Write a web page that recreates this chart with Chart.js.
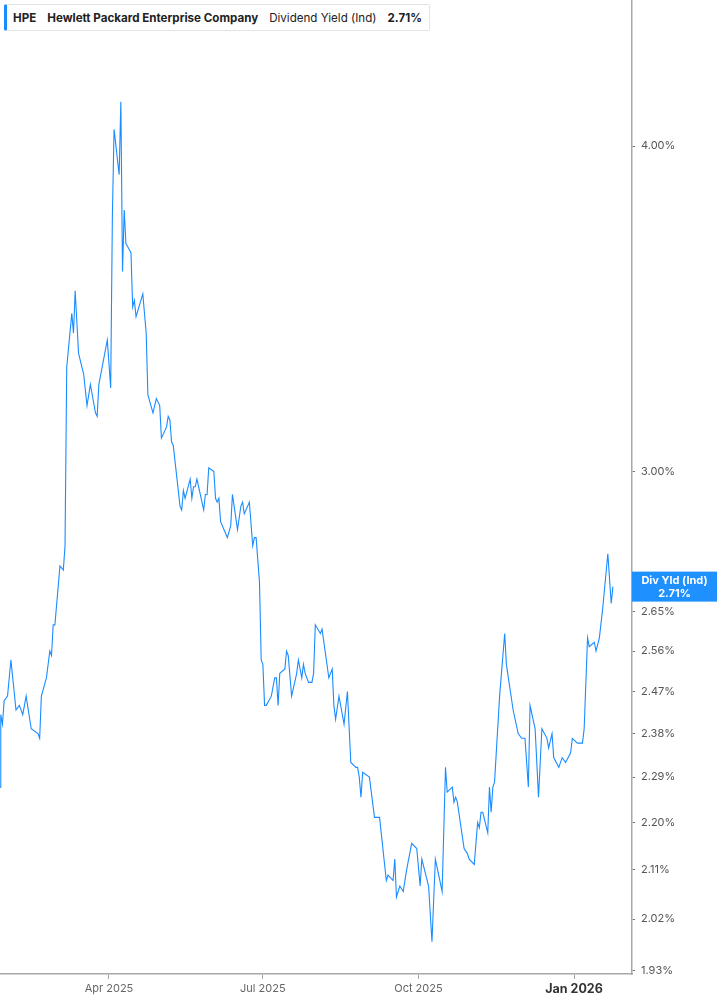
<!DOCTYPE html>
<html>
<head>
<meta charset="utf-8">
<script src="https://cdn.jsdelivr.net/npm/chart.js@4.4.1/dist/chart.umd.min.js"></script>
<style>
  html, body { margin: 0; padding: 0; background: #fff; }
  #wrap { position: relative; width: 717px; height: 1005px; }
  #legend {
    position: absolute; left: 4px; top: 4px; height: 25px;
    display: flex; align-items: center;
    background: #fff; border: 1px solid #e3e3e3; border-left: 3px solid #1a8cff;
    border-radius: 2px; padding: 0 7px 0 6px;
    font-family: Inter, 'Noto Sans', sans-serif; font-size: 11.6px; color: #222;
  }
  #legend b { font-weight: 700; }
  #legend span { margin-right: 11px; }
  #legend span:last-child { margin-right: 0; }
</style>
</head>
<body>
<div id="wrap">
  <canvas id="yield-chart" width="717" height="1005"></canvas>
  <div id="legend"></div>
</div>
<script>
const ticker = 'HPE';
const company = 'Hewlett Packard Enterprise Company';
const metric = 'Dividend Yield (Ind)';
const tagLabel = 'Div Yld (Ind)';

const dates = [
  '2025-01-26','2025-01-27','2025-01-28','2025-01-29','2025-01-31','2025-02-02','2025-02-05','2025-02-07',
  '2025-02-09','2025-02-11','2025-02-14','2025-02-18','2025-02-19','2025-02-20','2025-02-23','2025-02-25',
  '2025-02-26','2025-02-27','2025-02-28','2025-03-03','2025-03-05','2025-03-06','2025-03-07','2025-03-10',
  '2025-03-11','2025-03-12','2025-03-14','2025-03-17','2025-03-19','2025-03-21','2025-03-24','2025-03-25',
  '2025-03-26','2025-03-31','2025-04-02','2025-04-03','2025-04-04','2025-04-07','2025-04-08','2025-04-09',
  '2025-04-10','2025-04-11','2025-04-14','2025-04-15','2025-04-16','2025-04-17','2025-04-21','2025-04-23',
  '2025-04-24','2025-04-27','2025-04-29','2025-05-01','2025-05-02','2025-05-05','2025-05-06','2025-05-07',
  '2025-05-08','2025-05-09','2025-05-13','2025-05-14','2025-05-15','2025-05-16','2025-05-19','2025-05-20',
  '2025-05-21','2025-05-22','2025-05-23','2025-05-27','2025-05-28','2025-05-29','2025-05-30','2025-06-02',
  '2025-06-03','2025-06-04','2025-06-05','2025-06-06','2025-06-10','2025-06-12','2025-06-13','2025-06-16',
  '2025-06-18','2025-06-19','2025-06-20','2025-06-23','2025-06-25','2025-06-26','2025-06-27','2025-06-29',
  '2025-06-30','2025-07-01','2025-07-02','2025-07-03','2025-07-06','2025-07-08','2025-07-09','2025-07-10',
  '2025-07-11','2025-07-14','2025-07-15','2025-07-16','2025-07-18','2025-07-21','2025-07-22','2025-07-24',
  '2025-07-25','2025-07-26','2025-07-28','2025-07-30','2025-07-31','2025-08-01','2025-08-04','2025-08-05',
  '2025-08-09','2025-08-11','2025-08-12','2025-08-13','2025-08-15','2025-08-18','2025-08-20','2025-08-22',
  '2025-08-25','2025-08-26','2025-08-27','2025-08-28','2025-08-29','2025-09-02','2025-09-05','2025-09-08',
  '2025-09-12','2025-09-13','2025-09-16','2025-09-17','2025-09-18','2025-09-20','2025-09-22','2025-09-24',
  '2025-09-27','2025-09-30','2025-10-02','2025-10-03','2025-10-07','2025-10-09','2025-10-11','2025-10-15',
  '2025-10-17','2025-10-18','2025-10-21','2025-10-22','2025-10-23','2025-10-24','2025-10-28','2025-10-30',
  '2025-10-31','2025-11-03','2025-11-05','2025-11-06','2025-11-07','2025-11-08','2025-11-11','2025-11-12',
  '2025-11-13','2025-11-14','2025-11-15','2025-11-18','2025-11-21','2025-11-22','2025-11-26','2025-11-29',
  '2025-12-01','2025-12-03','2025-12-05','2025-12-06','2025-12-09','2025-12-11','2025-12-13','2025-12-16',
  '2025-12-17','2025-12-19','2025-12-20','2025-12-23','2025-12-25','2025-12-27','2025-12-30','2025-12-31',
  '2026-01-03','2026-01-06','2026-01-07','2026-01-09','2026-01-10','2026-01-13','2026-01-14','2026-01-16',
  '2026-01-18','2026-01-21','2026-01-23','2026-01-24'
];

const yields = [
  2.27, 2.42, 2.40, 2.45, 2.46, 2.54, 2.43, 2.44,
  2.42, 2.46, 2.39, 2.38, 2.37, 2.46, 2.50, 2.56,
  2.55, 2.62, 2.62, 2.76, 2.75, 2.81, 3.29, 3.45,
  3.39, 3.52, 3.33, 3.27, 3.18, 3.24, 3.16, 3.15,
  3.24, 3.37, 3.23, 3.76, 4.06, 3.90, 4.16, 3.58,
  3.78, 3.67, 3.64, 3.47, 3.49, 3.44, 3.51, 3.39,
  3.21, 3.16, 3.20, 3.18, 3.09, 3.12, 3.15, 3.14,
  3.08, 3.07, 2.91, 2.90, 2.95, 2.93, 2.98, 2.93,
  2.96, 2.96, 2.98, 2.90, 2.94, 2.94, 3.01, 3.00,
  2.93, 2.92, 2.93, 2.87, 2.83, 2.86, 2.94, 2.85,
  2.91, 2.92, 2.89, 2.92, 2.81, 2.83, 2.83, 2.72,
  2.54, 2.53, 2.44, 2.44, 2.46, 2.50, 2.50, 2.44,
  2.51, 2.52, 2.56, 2.55, 2.46, 2.51, 2.54, 2.50,
  2.53, 2.51, 2.49, 2.49, 2.51, 2.62, 2.60, 2.61,
  2.50, 2.52, 2.44, 2.41, 2.46, 2.40, 2.47, 2.32,
  2.31, 2.31, 2.29, 2.25, 2.30, 2.29, 2.21, 2.21,
  2.09, 2.10, 2.09, 2.13, 2.06, 2.08, 2.07, 2.11,
  2.16, 2.15, 2.08, 2.13, 2.08, 1.98, 2.13, 2.07,
  2.31, 2.26, 2.27, 2.24, 2.25, 2.24, 2.15, 2.14,
  2.13, 2.12, 2.20, 2.19, 2.22, 2.22, 2.18, 2.27,
  2.22, 2.27, 2.28, 2.46, 2.60, 2.53, 2.43, 2.38,
  2.37, 2.37, 2.27, 2.44, 2.39, 2.25, 2.39, 2.37,
  2.35, 2.38, 2.33, 2.31, 2.33, 2.32, 2.34, 2.37,
  2.36, 2.36, 2.39, 2.59, 2.57, 2.58, 2.56, 2.59,
  2.66, 2.79, 2.67, 2.71
];

const yTicks = [1.93, 2.02, 2.11, 2.20, 2.29, 2.38, 2.47, 2.56, 2.65, 3.00, 4.00];
const xTickDates = ['2025-04-01', '2025-07-01', '2025-10-01', '2026-01-01'];
const xTickLabels = ['Apr 2025', 'Jul 2025', 'Oct 2025', 'Jan 2026'];
const xRange = ['2025-01-26T13:00', '2026-02-04T07:00'];
const yRange = [1.9244, 4.551];

const BLUE = '#1a8cff';
const FONT = 'Inter, "Noto Sans", sans-serif';
const DAY0 = Date.UTC(2025, 0, 1);
const toDay = s => (Date.parse(s.length > 10 ? s + 'Z' : s + 'T00:00Z') - DAY0) / 86400000;

const points = dates.map((d, i) => ({ x: toDay(d), y: yields[i] }));
const xTickDays = xTickDates.map(toDay);
const lastYield = yields[yields.length - 1];

document.getElementById('legend').innerHTML =
  `<span><b>${ticker}</b></span><span><b>${company}</b></span>` +
  `<span>${metric}</span><span><b>${lastYield.toFixed(2)}%</b></span>`;

// blue tag on the right axis at the latest value
const lastTag = {
  id: 'lastTag',
  afterDraw(chart) {
    const { ctx, chartArea, scales } = chart;
    const y = scales.y.getPixelForValue(lastYield);
    const left = chartArea.right;
    const w = chart.width - left;
    ctx.save();
    ctx.fillStyle = '#1e90ff';
    ctx.fillRect(left, y - 15, w, 30);
    ctx.fillStyle = '#fff';
    ctx.font = `bold 11px ${FONT}`;
    ctx.textAlign = 'center';
    ctx.textBaseline = 'middle';
    ctx.fillText(tagLabel, left + w / 2, y - 6);
    ctx.fillText(lastYield.toFixed(2) + '%', left + w / 2, y + 7);
    ctx.restore();
  }
};

const chart = new Chart(document.getElementById('yield-chart').getContext('2d'), {
  type: 'line',
  data: {
    datasets: [{
      label: metric,
      data: points,
      borderColor: BLUE,
      borderWidth: 1.1,
      pointRadius: 0,
      tension: 0,
      fill: false,
    }]
  },
  options: {
    responsive: false,
    animation: false,
    layout: { padding: 0 },
    plugins: { legend: { display: false }, tooltip: { enabled: false } },
    scales: {
      x: {
        type: 'linear',
        min: toDay(xRange[0]),
        max: toDay(xRange[1]),
        afterBuildTicks: s => { s.ticks = xTickDays.map(v => ({ value: v })); },
        afterFit: s => { s.height = 31; s.paddingLeft = 0; s.paddingRight = 0; },
        border: { display: true, color: '#a8a8a8', width: 1.5 },
        grid: { drawOnChartArea: false, drawTicks: true, tickLength: 5, color: '#a8a8a8' },
        ticks: {
          autoSkip: false,
          maxRotation: 0,
          padding: 3,
          callback: v => xTickLabels[xTickDays.indexOf(v)],
          color: c => (c.tick && c.tick.value === xTickDays[3]) ? '#333' : '#666',
          font: c => (c.tick && c.tick.value === xTickDays[3])
            ? { family: FONT, size: 12.5, weight: 'bold' }
            : { family: FONT, size: 11 },
        }
      },
      y: {
        type: 'logarithmic',
        position: 'right',
        min: yRange[0],
        max: yRange[1],
        afterBuildTicks: s => { s.ticks = yTicks.map(v => ({ value: v })); },
        afterFit: s => { s.width = 85; s.paddingTop = 0; s.paddingBottom = 0; },
        border: { display: true, color: '#a8a8a8', width: 1.5 },
        grid: { drawOnChartArea: false, drawTicks: true, tickLength: 3, color: '#777' },
        ticks: {
          autoSkip: false,
          padding: 6,
          color: '#555',
          font: { family: FONT, size: 11 },
          callback: v => v.toFixed(2) + '%'
        }
      }
    }
  },
  plugins: [lastTag]
});
</script>
</body>
</html>
